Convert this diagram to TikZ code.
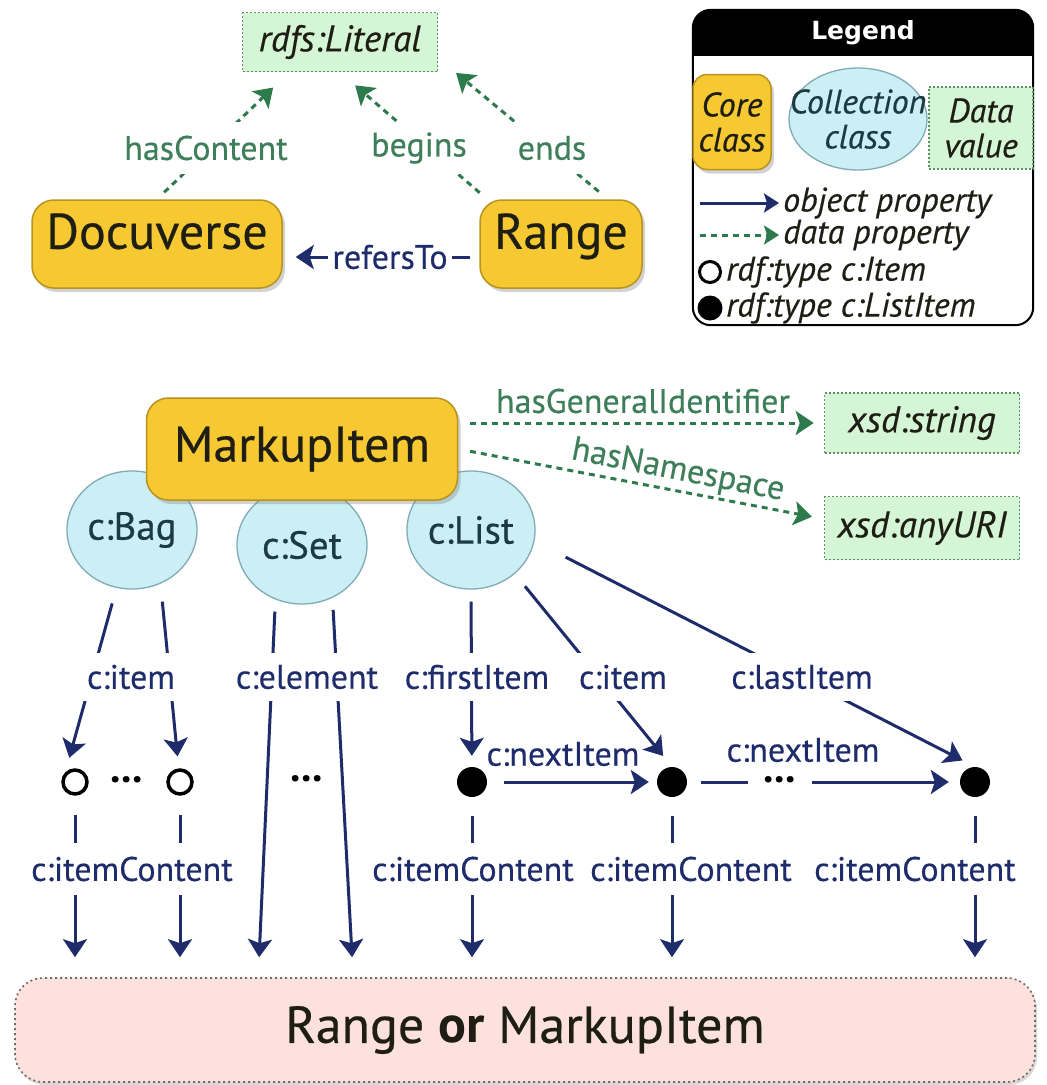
\documentclass[tikz,border=0pt]{standalone}
\usepackage{fontspec}
\setmainfont{PT Sans}[UprightFeatures={FakeBold=0.4},ItalicFeatures={FakeBold=0.4}]
\newfontfamily\legendfont{DejaVu Sans}
\usetikzlibrary{shapes.geometric,arrows.meta,shadows,calc}

\definecolor{coreyellow}{HTML}{F6C933}
\definecolor{coreborder}{HTML}{B8921C}
\definecolor{collfill}{HTML}{CBEFF5}
\definecolor{collborder}{HTML}{7FABB4}
\definecolor{colltext}{HTML}{1C3A42}
\definecolor{datafill}{HTML}{D5F5D7}
\definecolor{databorder}{HTML}{5F8F63}
\definecolor{navy}{HTML}{1F2C6B}
\definecolor{dgreen}{HTML}{2D7A4C}
\definecolor{glabel}{HTML}{3E7E5A}
\definecolor{pinkfill}{HTML}{FDE1DC}
\definecolor{pinkborder}{HTML}{756865}
\definecolor{ink}{HTML}{1E1E14}

\newcommand\fsCore{\fontsize{50}{56}\selectfont}
\newcommand\fsBottom{\fontsize{52}{58}\selectfont}
\newcommand\fsColl{\fontsize{39}{44}\selectfont}
\newcommand\fsLab{\fontsize{34}{38}\selectfont}
\newcommand\fsData{\fontsize{37}{42}\selectfont}
\newcommand\fsLeg{\fontsize{34}{35}\selectfont}
\newcommand\fsHead{\fontsize{25}{28}\selectfont}
\newcommand\fsDots{\fontsize{42}{46}\selectfont}

\begin{document}
\begin{tikzpicture}[x=1pt,y=-1pt,
  corebox/.style={draw=coreborder, fill=coreyellow, line width=1.5pt, rounded corners=22pt,
    drop shadow={opacity=0.35, shadow xshift=3pt, shadow yshift=-4pt},
    font=\fsCore, text=ink, inner sep=0pt},
  collnode/.style={ellipse, draw=collborder, fill=collfill, line width=1.3pt,
    font=\fsColl, text=colltext, inner sep=0pt},
  databox/.style={draw=databorder, fill=datafill, line width=1.6pt, dash pattern=on 2pt off 2pt,
    font=\fsData\itshape, text=ink, inner sep=0pt},
  objarrow/.style={draw=navy, line width=3pt, -{Stealth[length=18pt,width=24pt,inset=4pt]}},
  datarrow/.style={draw=dgreen, line width=3pt, dash pattern=on 6pt off 5pt,
    -{Stealth[length=18pt,width=24pt,inset=4pt]}},
  objlabel/.style={fill=white, text=navy, font=\fsLab, inner xsep=4pt, inner ysep=0pt, minimum height=48pt},
  datalabel/.style={fill=white, text=glabel, font=\fsLab, inner xsep=8pt, inner ysep=0pt, minimum height=52pt},
  openitem/.style={circle, draw=black, line width=3.5pt, fill=white, minimum size=24pt, inner sep=0pt},
  listitem/.style={circle, fill=black, minimum size=30pt, inner sep=0pt},
  dotsnode/.style={font=\fsDots\bfseries, inner sep=0pt, text height=0.12em, text depth=0pt},
  rmbox/.style={draw=pinkborder, fill=pinkfill, line width=1.6pt, dash pattern=on 2pt off 3pt,
    rounded corners=28pt, drop shadow={opacity=0.3, shadow xshift=2pt, shadow yshift=-3pt},
    font=\fsBottom, text=ink},
  legtext/.style={anchor=west, font=\fsLeg\itshape, text=ink, inner sep=2pt}
]
\useasboundingbox (0,0) rectangle (1047,1085);
\fill[white] (0,0) rectangle (1047,1085);

% ---------- Docuverse / Range ----------
\node[databox, minimum width=195pt, minimum height=59pt] (lit) at (340,42) {rdfs:Literal};
\node[corebox, minimum width=250pt, minimum height=88pt, text height=0.95em, text depth=0pt] (docu) at (157,244) {Docuverse};
\node[corebox, minimum width=162pt, minimum height=88pt, text height=0.95em, text depth=0pt] (range) at (561,244) {Range};

\draw[objarrow, shorten <=9pt, shorten >=13pt] ([yshift=-13pt]range.west) -- ([yshift=-13pt]docu.east);
\node[objlabel, minimum height=0pt, inner ysep=3pt] (lrefers) at (390,257) {refersTo};

\draw[datarrow, shorten <=10pt, shorten >=22pt] (docu.north) -- ([xshift=-51pt]lit.south);
\draw[datarrow, shorten <=10pt, shorten >=20pt] ([xshift=8pt]range.north west) -- (lit.south);
\draw[datarrow, shorten <=12pt, shorten >=1pt] ([xshift=47pt]range.north) -- ([xshift=17pt]lit.south east);
\node[datalabel] (lcontent) at (206,148) {hasContent};
\node[datalabel] (lbegins) at (419,148) {begins};
\node[datalabel, inner xsep=12pt] (lends) at (552,148) {ends};

% ---------- Legend ----------
\node[fill=white, minimum width=340pt, minimum height=315pt, inner sep=0pt] (legend) at (863,167.5) {};
\begin{scope}
  \clip[rounded corners=18pt] (legend.north west) rectangle (legend.south east);
  \fill[black] (legend.north west) rectangle ([yshift=-46pt]legend.north east);
\end{scope}
\draw[black, line width=2pt, rounded corners=18pt] (legend.north west) rectangle (legend.south east);
\node[text=white, font=\legendfont\bfseries\fsHead] (lghead) at (863,33) {Legend};

\node[corebox, rounded corners=14pt, minimum width=78pt, minimum height=95pt,
  font=\fsLeg\itshape, align=center] (lgcore) at (732,122) {Core\\class};
\node[databox, minimum width=104pt, minimum height=82pt, font=\fsLeg\itshape, align=center] (lgdata) at (981,128) {Data\\value};
\node[collnode, minimum width=138pt, minimum height=102pt] (lgcoll) at (858,119) {};
\node[font=\fsLeg\itshape, text=colltext, align=center, inner sep=0pt] (lgcolltext) at (lgcoll) {Collection\\class};

\coordinate (lo1) at (700,203);
\coordinate (lo2) at (779,203);
\draw[objarrow, -{Stealth[length=15pt,width=19pt,inset=3pt]}] (lo1) -- (lo2);
\node[legtext] (lgobj) at (781,203) {object property};
\coordinate (ld1) at (700,235);
\coordinate (ld2) at (779,235);
\draw[datarrow, -{Stealth[length=15pt,width=19pt,inset=3pt]}] (ld1) -- (ld2);
\node[legtext] (lgdat) at (781,235) {data property};
\node[openitem, minimum size=21pt, line width=3pt] (lgopen) at (710,272) {};
\node[legtext] (lgitem) at (724,272) {rdf:type c:Item};
\node[listitem, minimum size=25pt] (lgfull) at (710,308) {};
\node[legtext] (lglist) at (724,308) {rdf:type c:ListItem};

% ---------- MarkupItem and collections ----------
\node[collnode, minimum width=130pt, minimum height=118pt] (bag) at (132,530) {c:Bag};
\node[collnode, minimum width=130pt, minimum height=118pt] (set) at (302,545) {c:Set};
\node[collnode, minimum width=128pt, minimum height=118pt] (list) at (471,530) {c:List};
\node[corebox, minimum width=311pt, minimum height=102pt] (mi) at (302,449) {MarkupItem};

\node[databox, minimum width=195pt, minimum height=60pt] (xstr) at (922,423) {xsd:string};
\node[databox, minimum width=195pt, minimum height=63pt] (xuri) at (922,528) {xsd:anyURI};

\draw[datarrow, shorten <=12pt, shorten >=10pt] ([yshift=26pt]mi.east) -- (xstr.west);
\draw[datarrow, shorten <=12pt, shorten >=12pt] (mi.east) -- ([yshift=9pt]xuri.west);
\node[text=glabel, font=\fsLab] (lgid) at (643,401) {hasGeneralIdentifier};
\node[text=glabel, font=\fsLab, rotate=-11] (lns) at (678,471) {hasNamespace};

% ---------- items ----------
\node[openitem] (o1) at (75,782) {};
\node[openitem] (o2) at (180,782) {};
\node[dotsnode] (d1) at (127,782) {...};
\node[dotsnode] (d2) at (307,781) {...};
\node[listitem] (f1) at (472,782) {};
\node[listitem] (f2) at (672,782) {};
\node[listitem] (f3) at (975,782) {};

\node[rmbox, minimum width=1020pt, minimum height=104pt] (rm) at (525,1030) {Range \textbf{or} MarkupItem};

% collection -> member arrows
\draw[objarrow, shorten <=16pt, shorten >=15pt] (bag.-105) -- (o1.north west);
\draw[objarrow, shorten <=18pt, shorten >=12pt] (bag.-62) -- (o2);
\draw[objarrow, shorten <=12pt, shorten >=20pt] (set.-116) -- ([xshift=244pt]rm.north west);
\draw[objarrow, shorten <=12pt, shorten >=20pt] (set.-60) -- ([xshift=339pt]rm.north west);
\draw[objarrow, shorten <=12pt, shorten >=11pt] (list.south) -- (f1);
\draw[objarrow, shorten <=16pt, shorten >=14pt] (list.-45) -- (f2.north);
\draw[objarrow, shorten <=35pt, shorten >=14pt] (list.-10) -- (f3.north);

\node[objlabel] (lbag) at (131,677) {c:item};
\node[objlabel] (lset) at (307,677) {c:element};
\node[objlabel] (lfirst) at (477,677) {c:firstItem};
\node[objlabel] (litem) at (623,677) {c:item};
\node[objlabel] (llast) at (802,677) {c:lastItem};

% list chain
\draw[objarrow, shorten <=17pt, shorten >=8pt] (f1) -- (f2);
\draw[objarrow, shorten <=14pt, shorten >=11pt] (f2) -- (f3)
  node[dotsnode, fill=white, inner xsep=16pt, inner ysep=2pt, pos=0.34] (d3) {...};
\node[text=navy, font=\fsLab] (lnext1) at (563,754) {c:nextItem};
\node[text=navy, font=\fsLab] (lnext2) at (803,750) {c:nextItem};

% member -> content arrows
\foreach \n in {o1,o2,f1,f2,f3}
  \draw[objarrow, shorten <=19pt, shorten >=20pt] (\n) -- (\n |- rm.north);
\node[objlabel, minimum height=52pt] (lc1) at (132,869) {c:itemContent};
\node[objlabel, minimum height=52pt] (lc2) at (473,869) {c:itemContent};
\node[objlabel, minimum height=52pt] (lc3) at (691,869) {c:itemContent};
\node[objlabel, minimum height=52pt] (lc4) at (915,869) {c:itemContent};
\end{tikzpicture}
\end{document}
